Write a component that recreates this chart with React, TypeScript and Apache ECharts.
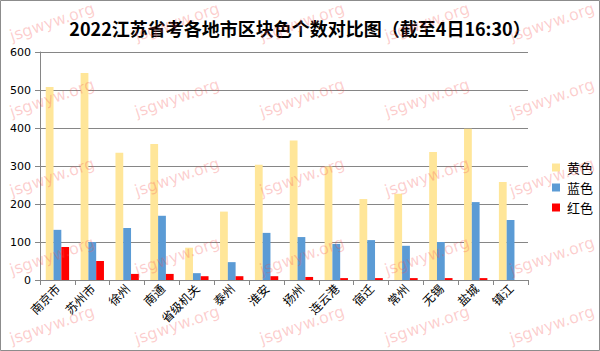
import React, { useEffect, useRef } from "react";
import * as echarts from "echarts";

const categories = ["南京市", "苏州市", "徐州", "南通", "省级机关", "泰州", "淮安", "扬州", "连云港", "宿迁", "常州", "无锡", "盐城", "镇江"];
const yellowValues = [508, 545, 335, 358, 85, 180, 303, 367, 299, 213, 227, 337, 398, 258];
const blueValues = [132, 100, 137, 169, 18, 47, 124, 113, 95, 105, 90, 100, 205, 158];
const redValues = [87, 50, 16, 16, 10, 10, 10, 8, 5, 5, 5, 5, 5, 0];
const seriesNames = ["黄色", "蓝色", "红色"];
const titleText = "2022江苏省考各地市区块色个数对比图（截至4日16:30）";
const watermarkText = "jsgwyw.org";
const watermarkCols = [52, 177, 302, 427, 552];
const watermarkRows = [22, 98, 177, 256, 325];

export default function App() {
  const ref = useRef<HTMLDivElement>(null);
  useEffect(() => {
    if (!ref.current) return;
    const chart = echarts.init(ref.current, null, { renderer: "svg" });
    const marks: any[] = [];
    watermarkCols.forEach((cx) => {
      watermarkRows.forEach((cy) => {
        marks.push({
          type: "text",
          x: cx,
          y: cy,
          rotation: 0.33,
          z: 100,
          silent: true,
          style: {
            text: watermarkText,
            fill: "rgba(245,80,80,0.28)",
            font: "16px 'DejaVu Sans'",
            align: "center",
            verticalAlign: "middle",
          },
        });
      });
    });
    marks.push({
      type: "rect",
      shape: { x: 0.5, y: 0.5, width: 599, height: 350 },
      style: { fill: "none", stroke: "#8c8c8c", lineWidth: 1 },
      silent: true,
      z: 101,
    });
    const colors = ["#FFE699", "#5B9BD5", "#FF0000"];
    const dataSets = [yellowValues, blueValues, redValues];
    chart.setOption({
      animation: false,
      backgroundColor: "#ffffff",
      title: {
        text: titleText,
        left: "center",
        top: 14,
        textStyle: { fontSize: 18, fontWeight: "bold", color: "#000", fontFamily: "'Noto Sans CJK SC'" },
      },
      legend: {
        orient: "vertical",
        left: 547,
        top: 156,
        itemWidth: 8,
        itemHeight: 8,
        itemGap: 7,
        icon: "rect",
        data: seriesNames,
        textStyle: { fontSize: 13, color: "#000", fontFamily: "'Noto Sans CJK SC'", padding: [0, 0, 0, 2] },
      },
      grid: { left: 40, right: 72, top: 52, bottom: 71, containLabel: false },
      xAxis: {
        type: "category",
        data: categories,
        axisLine: { lineStyle: { color: "#868686" } },
        axisTick: { show: true, interval: 0, length: 5, lineStyle: { color: "#868686" } },
        axisLabel: {
          interval: 0,
          rotate: 45,
          margin: 6,
          fontSize: 12,
          color: "#000",
          fontFamily: "'Noto Sans CJK SC'",
        },
      },
      yAxis: {
        type: "value",
        min: 0,
        max: 600,
        interval: 100,
        axisLine: { show: true, lineStyle: { color: "#868686" } },
        axisTick: { show: true, length: 5, lineStyle: { color: "#868686" } },
        splitLine: { lineStyle: { color: "#868686" } },
        axisLabel: { fontSize: 11, color: "#000", margin: 9, fontFamily: "'DejaVu Sans'" },
      },
      series: seriesNames.map((name, i) => ({
        name,
        type: "bar",
        data: dataSets[i],
        barGap: "0%",
        barCategoryGap: "33%",
        itemStyle: { color: colors[i] },
      })),
      graphic: marks,
    });
    return () => chart.dispose();
  }, []);
  return <div ref={ref} style={{ position: "fixed", left: 0, top: 0, width: 600, height: 351 }} />;
}
